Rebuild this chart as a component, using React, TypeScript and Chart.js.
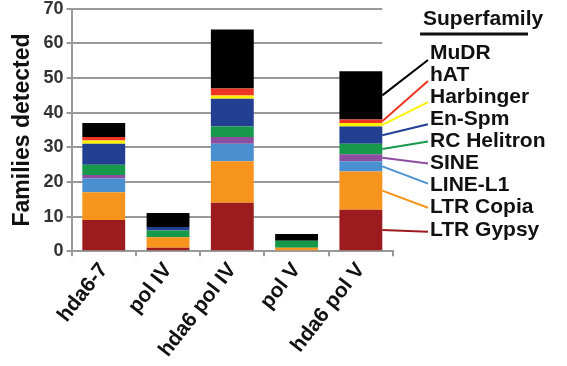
import React, { useEffect, useRef } from "react";
import { Chart, registerables } from "chart.js";

Chart.register(...registerables);

const categories = ["hda6-7", "pol IV", "hda6 pol IV", "pol V", "hda6 pol V"];
const ltrGypsy = [9, 1, 14, 0, 12];
const ltrCopia = [8, 3, 12, 1, 11];
const lineL1 = [4, 0, 5, 0, 3];
const sine = [1, 0, 2, 0, 2];
const rcHelitron = [3, 2, 3, 2, 3];
const enSpm = [6, 1, 8, 0, 5];
const harbinger = [1, 0, 1, 0, 1];
const hAT = [1, 0, 2, 0, 1];
const muDR = [4, 4, 17, 2, 14];
const yTicks = [0, 10, 20, 30, 40, 50, 60, 70];

const seriesNames = ["LTR Gypsy", "LTR Copia", "LINE-L1", "SINE", "RC Helitron", "En-Spm", "Harbinger", "hAT", "MuDR"];
const seriesData = [ltrGypsy, ltrCopia, lineL1, sine, rcHelitron, enSpm, harbinger, hAT, muDR];
const seriesColors = ["#9b1b1f", "#f7941d", "#4a8fd0", "#8d4e9f", "#16994a", "#223f91", "#fff200", "#ee3524", "#000000"];

const FONT = "'Liberation Sans', Arial, sans-serif";
const SHIFT = 5; // canvas is drawn 5px above the page top

const gridPlugin = {
  id: "shortGrid",
  beforeDatasetsDraw(chart: any) {
    const ctx = chart.ctx;
    const y = chart.scales.y;
    const meta = chart.getDatasetMeta(0);
    const last = meta.data[meta.data.length - 1];
    const right = last.x + last.width / 2;
    ctx.save();
    ctx.strokeStyle = "#999";
    ctx.lineWidth = 2;
    yTicks.forEach((v) => {
      if (v === 0) return;
      const py = Math.round(y.getPixelForValue(v));
      ctx.beginPath();
      ctx.moveTo(chart.chartArea.left, py);
      ctx.lineTo(right, py);
      ctx.stroke();
    });
    ctx.restore();
  },
};

const legendPlugin = {
  id: "sideLegend",
  afterDraw(chart: any) {
    const ctx = chart.ctx;
    const idx = categories.length - 1;
    ctx.save();
    ctx.translate(0, SHIFT);
    ctx.font = `bold 21px ${FONT}`;
    ctx.fillStyle = "#111";
    ctx.textBaseline = "middle";
    ctx.textAlign = "left";
    ctx.fillText("Superfamily", 423, 19);
    ctx.strokeStyle = "#111";
    ctx.lineWidth = 3;
    ctx.beginPath();
    ctx.moveTo(420, 34);
    ctx.lineTo(528, 34);
    ctx.stroke();
    const n = seriesNames.length;
    const endOffsets = [7, 6, 5, 5, 0, 0, -2, 0, 2];
    for (let k = 0; k < n; k++) {
      const ds = n - 1 - k;
      const labelY = 53 + k * 22.1;
      const meta = chart.getDatasetMeta(ds);
      const el = meta.data[idx];
      const x0 = el.x + el.width / 2;
      const y0 = (el.y + el.base) / 2 - SHIFT;
      ctx.strokeStyle = seriesColors[ds];
      ctx.lineWidth = 2;
      ctx.beginPath();
      ctx.moveTo(x0, y0);
      ctx.lineTo(428, labelY + endOffsets[k]);
      ctx.stroke();
      ctx.fillStyle = "#111";
      ctx.font = `bold 21px ${FONT}`;
      ctx.fillText(seriesNames[ds], 430, labelY);
    }
    ctx.restore();
  },
};

export default function App() {
  const ref = useRef<HTMLCanvasElement>(null);
  useEffect(() => {
    if (!ref.current) return;
    const chart = new Chart(ref.current, {
      type: "bar",
      data: {
        labels: categories,
        datasets: seriesNames.map((name, i) => ({
          label: name,
          data: seriesData[i],
          backgroundColor: seriesColors[i],
          borderWidth: 0,
          barPercentage: 0.667,
          categoryPercentage: 1,
        })),
      },
      options: {
        responsive: false,
        animation: false,
        layout: { padding: { left: 9, right: 174, top: 0, bottom: 2 } },
        plugins: { legend: { display: false }, tooltip: { enabled: false } },
        scales: {
          x: {
            stacked: true,
            offset: true,
            grid: { display: true, drawOnChartArea: false, drawTicks: true, tickLength: 5, color: "#999", lineWidth: 2, offset: true },
            border: { color: "#999", width: 2 },
            ticks: {
              color: "#111",
              font: { family: FONT, size: 21, weight: "bold" },
              maxRotation: 52,
              minRotation: 52,
              padding: 2,
            },
          },
          y: {
            stacked: true,
            min: 0,
            max: 70,
            afterBuildTicks(axis: any) {
              axis.ticks = yTicks.map((v) => ({ value: v }));
            },
            grid: { display: true, drawOnChartArea: false, drawTicks: true, color: "#999", lineWidth: 2, tickLength: 5 },
            border: { color: "#999", width: 2 },
            ticks: {
              color: "#333",
              font: { family: FONT, size: 18, weight: "bold" },
              padding: 3,
            },
            title: {
              display: true,
              text: "Families detected",
              color: "#111",
              font: { family: FONT, size: 23, weight: "bold" },
              padding: { top: 0, bottom: 4 },
            },
          },
        },
      },
      plugins: [gridPlugin, legendPlugin],
    });
    return () => chart.destroy();
  }, []);
  return (
    <div style={{ position: "absolute", left: 0, top: 0, width: 567, height: 366, overflow: "hidden", background: "#fff" }}>
      <canvas ref={ref} width={567} height={366 + SHIFT} style={{ display: "block", marginTop: -SHIFT }} />
    </div>
  );
}
